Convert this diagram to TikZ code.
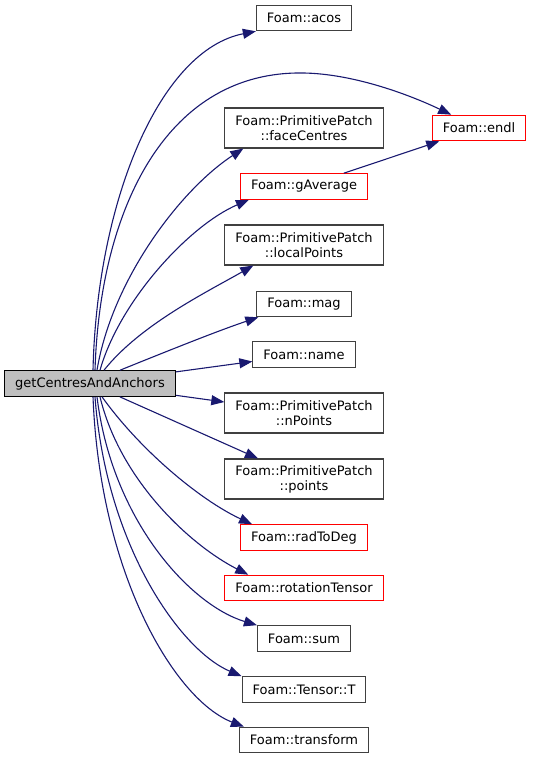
\documentclass[tikz,border=0pt]{standalone}
\usepackage{fontspec}
\setmainfont{DejaVu Sans}
\usetikzlibrary{arrows.meta}

\definecolor{edgeblue}{HTML}{191970}
\definecolor{boxgrey}{HTML}{404040}
\definecolor{callergrey}{HTML}{BFBFBF}

\tikzset{
    fn/.style={draw=boxgrey, line width=1.1pt, fill=white, inner xsep=10.5pt, inner ysep=2pt,
               minimum height=25.5pt, align=center, font=\fontsize{13}{15}\selectfont},
    fntwo/.style={fn, minimum height=40pt},
    fnred/.style={fn, draw=red},
    fnmain/.style={fn, draw=black, fill=callergrey},
    call/.style={draw=edgeblue, line width=1.1pt, -{Triangle[length=13pt,width=10pt]}}
}

\begin{document}
\begin{tikzpicture}[x=1pt,y=-1pt]
% Parameters
\def\colx{304}
\useasboundingbox (0,0) rectangle (532,759);

% Caller
\node[fnmain] (main) at (90,383.5) {getCentresAndAnchors};

% Callees, one column
\foreach \id/\y/\kind/\txt in {
    acos/18/fn/{Foam::acos},
    faceCentres/128/fntwo/{Foam::PrimitivePatch\\::faceCentres},
    gAverage/186.5/fnred/{Foam::gAverage},
    localPoints/245/fntwo/{Foam::PrimitivePatch\\::localPoints},
    mag/304/fn/{Foam::mag},
    name/354.5/fn/{Foam::name},
    nPoints/413/fntwo/{Foam::PrimitivePatch\\::nPoints},
    points/479/fntwo/{Foam::PrimitivePatch\\::points},
    radToDeg/537.5/fnred/{Foam::radToDeg},
    rotationTensor/588/fnred/{Foam::rotationTensor},
    sum/638.5/fn/{Foam::sum},
    T/689.5/fn/{Foam::Tensor::T},
    transform/740/fn/{Foam::transform}} {
    \node[\kind] (\id) at (\colx,\y) {\txt};
}
\node[fnred] (endl) at (479,128) {Foam::endl};

% Calls going up
\draw[call] ([xshift=3pt]main.north) .. controls (97,200) and (160,50) .. (acos.south west);
\draw[call] ([xshift=5pt]main.north) .. controls (100,210) and (165,75) .. (297,73)
            .. controls (350,72) and (410,95) .. (endl);
\draw[call] ([xshift=7pt]main.north) .. controls (112,280) and (180,190) .. ([xshift=19pt]faceCentres.south west);
\draw[call] ([xshift=10pt]main.north) .. controls (120,300) and (190,225) .. ([xshift=9pt]gAverage.south west);
\draw[call] ([xshift=14pt]main.north) .. controls (140,325) and (205,293) .. ([xshift=29pt]localPoints.south west);
\draw[call] ([xshift=30pt]main.north) .. controls (170,350) and (220,330) .. ([xshift=2pt]mag.south west);

% Calls going right
\draw[call] (main) -- (name);
\draw[call] (main) -- (nPoints);
\draw[call] (main) -- (points);

% Calls going down
\draw[call] ([xshift=12pt]main.south) .. controls (140,450) and (200,500) .. ([xshift=12pt]radToDeg.north west);
\draw[call] ([xshift=10pt]main.south) .. controls (120,480) and (190,545) .. ([xshift=24pt]rotationTensor.north west);
\draw[call] ([xshift=7pt]main.south) .. controls (112,520) and (190,605) .. (sum.north west);
\draw[call] ([xshift=5pt]main.south) .. controls (106,545) and (180,650) .. (T.north west);
\draw[call] ([xshift=3pt]main.south) .. controls (100,575) and (175,700) .. ([xshift=5pt]transform.north west);

% gAverage itself calls endl
\draw[call] (gAverage) -- (endl);
\end{tikzpicture}
\end{document}
